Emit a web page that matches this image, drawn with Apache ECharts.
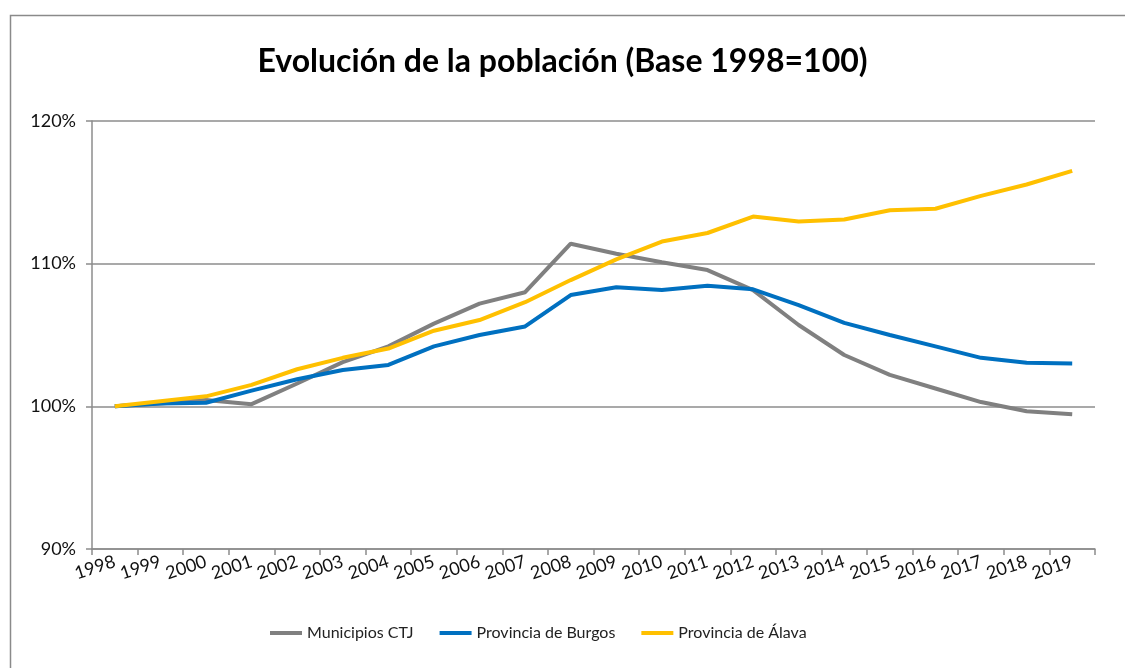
<!DOCTYPE html>
<html>
<head>
<meta charset="utf-8">
<script src="https://cdn.jsdelivr.net/npm/echarts@6/dist/echarts.min.js"></script>
<style>
  html, body { margin: 0; padding: 0; background: #fff; }
  #chart { width: 1125px; height: 668px; }
</style>
</head>
<body>
<div id="chart"></div>
<script>
// años
var years = ['1998', '1999', '2000', '2001', '2002', '2003', '2004', '2005', '2006', '2007', '2008',
  '2009', '2010', '2011', '2012', '2013', '2014', '2015', '2016', '2017', '2018', '2019']

// índice base 1998 = 100
var municipiosCTJ = [100, 100.2, 100.45, 100.15, 101.6, 103.1, 104.2, 105.8, 107.2, 108.0, 111.4,
  110.7, 110.1, 109.55, 108.15, 105.7, 103.6, 102.2, 101.25, 100.3, 99.65, 99.45]
var provBurgos = [100, 100.2, 100.25, 101.1, 101.9, 102.55, 102.9, 104.2, 105.0, 105.6, 107.8,
  108.35, 108.15, 108.45, 108.2, 107.1, 105.85, 105.0, 104.2, 103.4, 103.05, 103.0]
var provAlava = [100, 100.35, 100.7, 101.5, 102.6, 103.4, 104.05, 105.3, 106.05, 107.3, 108.85,
  110.3, 111.55, 112.15, 113.3, 112.95, 113.1, 113.75, 113.85, 114.75, 115.55, 116.5]

var seriesNames = ['Municipios CTJ', 'Provincia de Burgos', 'Provincia de Álava']
var colors = ['#808080', '#0070C0', '#FFC000']

var font = 'Lato, "Open Sans", sans-serif'
var gridColor = '#8c8c8c'

var myChart = echarts.init(document.getElementById('chart'))

function mkLine (name, data, color) {
  return {
    name: name,
    type: 'line',
    data: data,
    symbol: 'none',
    color: color,
    lineStyle: { width: 4, color: color }
  }
}

myChart.setOption({
  animation: false,
  textStyle: { fontFamily: font },
  title: {
    text: 'Evolución de la población (Base 1998=100)',
    left: 'center',
    top: 41,
    textStyle: { fontFamily: font, fontSize: 32, fontWeight: 'bold', color: '#000' }
  },
  graphic: [{
    type: 'rect',
    left: 8,
    top: 13,
    shape: { width: 1140, height: 700 },
    style: { fill: 'none', stroke: '#8a8a8a', lineWidth: 1.5 },
    silent: true
  }],
  legend: {
    bottom: 22,
    left: 265,
    itemWidth: 32,
    itemHeight: 4,
    itemGap: 26,
    icon: 'rect',
    textStyle: { fontFamily: font, fontSize: 16, color: '#222' },
    data: seriesNames
  },
  grid: { left: 92, right: 30, top: 121, bottom: 119, containLabel: false },
  xAxis: {
    type: 'category',
    data: years,
    boundaryGap: true,
    axisLine: { lineStyle: { color: gridColor, width: 1.5 } },
    axisTick: { show: true, length: 6, lineStyle: { color: gridColor, width: 1.5 } },
    axisLabel: { rotate: 18, interval: 0, margin: 12, fontSize: 18, color: '#111', fontFamily: font }
  },
  yAxis: {
    type: 'value',
    min: 90,
    max: 120,
    interval: 10,
    axisLine: { show: true, lineStyle: { color: gridColor, width: 1.5 } },
    axisTick: { show: true, length: 6, inside: false, lineStyle: { color: gridColor, width: 1.5 } },
    axisLabel: { formatter: '{value}%', fontSize: 18, color: '#111', margin: 16, fontFamily: font },
    splitLine: { lineStyle: { color: gridColor, width: 1.5 } }
  },
  series: [
    mkLine(seriesNames[0], municipiosCTJ, colors[0]),
    mkLine(seriesNames[1], provBurgos, colors[1]),
    mkLine(seriesNames[2], provAlava, colors[2])
  ]
})
</script>
</body>
</html>
